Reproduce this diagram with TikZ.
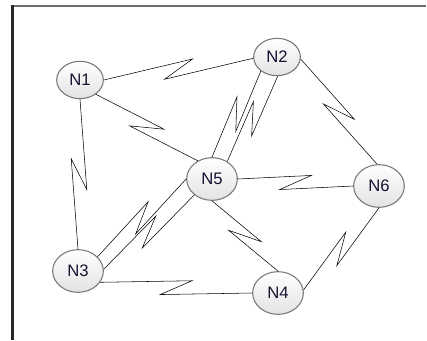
\documentclass[tikz,border=0pt]{standalone}
\usepackage{fontspec}
\setmainfont{Liberation Sans}
\usetikzlibrary{shapes.geometric,calc}

\definecolor{linkgray}{RGB}{95,95,95}
\definecolor{nodeedge}{RGB}{120,120,120}
\definecolor{nodetext}{RGB}{20,20,50}

\tikzset{
  site/.style={ellipse, draw=nodeedge, line width=0.8pt, top color=white, bottom color=gray!22,
    text=nodetext, font=\fontsize{12.5}{14}\selectfont, minimum width=38pt, minimum height=32pt, inner sep=0pt},
  smallsite/.style={site, minimum width=35pt, minimum height=28pt},
  link/.style={draw=linkgray, line width=0.75pt,
    to path={-- ($(\tikztostart)!.5!(\tikztotarget)!11.5pt!(\tikztotarget)!6pt!-90:(\tikztotarget)$)
             -- ($(\tikztostart)!.5!(\tikztotarget)!-11.5pt!(\tikztotarget)!6pt!90:(\tikztotarget)$)
             -- (\tikztotarget) \tikztonodes}}
}

\begin{document}
\begin{tikzpicture}[x=0.75pt,y=0.75pt,yscale=-1,xscale=1]
\useasboundingbox (0,0) rectangle (427,340);

%Frame
\draw [color={rgb, 255:red, 110; green, 110; blue, 110 }, line width=1.5] (12.5,6) -- (426,6) ;
\draw [color={rgb, 255:red, 40; green, 40; blue, 40 }, line width=1.6] (12.5,340) -- (12.5,5.3) ;

% Sites
\node [smallsite] (n1) at (80,80) {N1};
\node [smallsite] (n2) at (277,57) {N2};
\node [site] (n5) at (212,179) {N5};
\node [site] (n6) at (379,186) {N6};
\node [site] (n3) at (78,271) {N3};
\node [site] (n4) at (278,293) {N4};

%Links
\draw (n1.0) to [link] (n2.183) ;
\draw (n1.318) to [link] (n5.128) ;
\draw (n1.270) to [link] (n3.90) ;
\draw (n2.221) to [link] (n5.90) ;
\draw (n2.272) to [link] (n5.49) ;
\draw (n2.355) to [link] (n6.95) ;
\draw (n3.36) to [link] (n5.180) ;
\draw (n3.4) to [link] (n5.222) ;
\draw (n5.0) to [link] (n6.180) ;
\draw (n5.270) to [link] (n4.90) ;
\draw (n6.270) to [link] (n4.7) ;
\draw (n3.333) to [link] (n4.180) ;

\end{tikzpicture}
\end{document}
